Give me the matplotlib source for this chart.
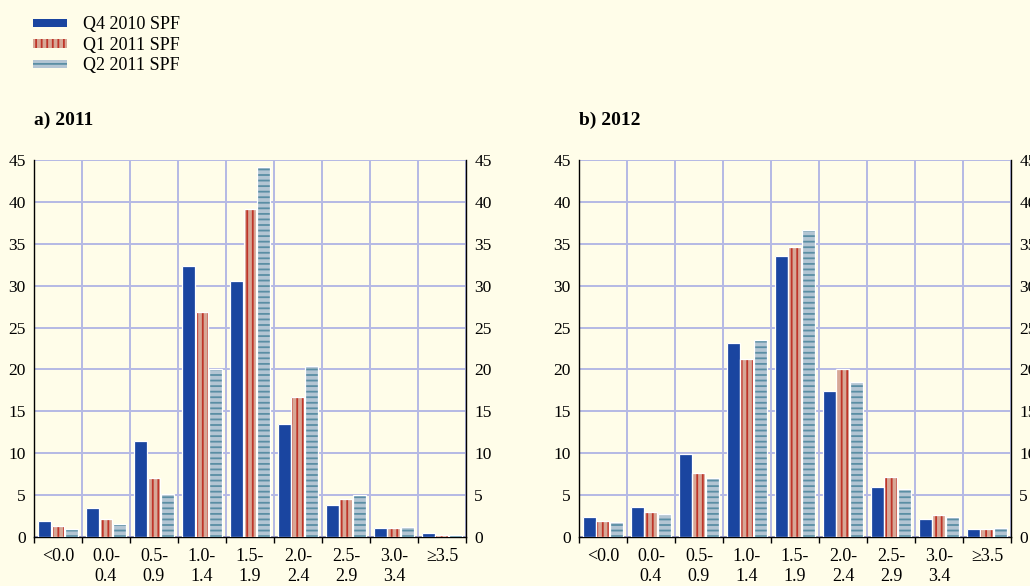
import matplotlib
matplotlib.use("Agg")
import matplotlib.pyplot as plt
import numpy as np
from matplotlib.patches import Patch

# bins of expected inflation (percent)
bins = ['<0.0', '0.0-\n0.4', '0.5-\n0.9', '1.0-\n1.4', '1.5-\n1.9',
        '2.0-\n2.4', '2.5-\n2.9', '3.0-\n3.4', '≥3.5']
series_names = ['Q4 2010 SPF', 'Q1 2011 SPF', 'Q2 2011 SPF']

# a) 2011
q4_2010_a = [1.9, 3.5, 11.5, 32.4, 30.6, 13.5, 3.8, 1.1, 0.45]
q1_2011_a = [1.3, 2.2, 7.1, 26.9, 39.2, 16.7, 4.5, 1.05, 0.25]
q2_2011_a = [0.9, 1.5, 5.1, 20.1, 44.2, 20.4, 5.0, 1.2, 0.2]

# b) 2012
q4_2010_b = [2.4, 3.6, 9.9, 23.1, 33.6, 17.4, 6.0, 2.2, 0.95]
q1_2011_b = [1.9, 3.0, 7.7, 21.3, 34.6, 20.0, 7.2, 2.6, 0.9]
q2_2011_b = [1.8, 2.8, 7.1, 23.5, 36.6, 18.5, 5.7, 2.4, 1.05]

BG = '#fffde9'
GRID = '#b4b9e4'
styles = [
    dict(color='#1a45a0', hatch=None, hatchcol='#1a45a0'),
    dict(color='#d7a796', hatch='|||', hatchcol='#bf3428'),
    dict(color='#b3c5d3', hatch='---', hatchcol='#5a8ea4'),
]

plt.rcParams['font.family'] = ['Liberation Serif', 'DejaVu Serif']
plt.rcParams['hatch.linewidth'] = 1.3

fig = plt.figure(figsize=(10.3, 5.86), dpi=100, facecolor=BG)


def draw_panel(ax, data, title):
    ax.set_facecolor(BG)
    x = np.arange(len(bins))
    w = 0.27
    offs = [-0.285, 0.0, 0.285]
    for vals, st, off in zip(data, styles, offs):
        ax.bar(x + off, vals, w, color=st['color'], hatch=st['hatch'],
               edgecolor=st['hatchcol'], linewidth=0, zorder=3)
        ax.bar(x + off, vals, w, fill=False, edgecolor='white',
               linewidth=0.9, zorder=4)

    ax.set_xlim(-0.5, len(bins) - 0.5)
    ax.set_ylim(0, 45)
    ax.set_yticks(range(0, 46, 5))
    ax.set_xticks(np.arange(len(bins) + 1) - 0.5)
    ax.set_xticklabels([])
    ax.set_xticks(x, minor=True)
    ax.set_xticklabels(bins, minor=True, fontsize=13, va='top',
                       linespacing=1.2)
    ax.tick_params(axis='x', which='major', direction='out', length=4,
                   width=1, color='black')
    ax.tick_params(axis='x', which='minor', length=0, pad=8)
    ax.tick_params(axis='y', length=0, labelsize=12.5, pad=6,
                   labelleft=True, labelright=True)
    ax.grid(True, which='major', color=GRID, linewidth=1.4, zorder=0)
    ax.spines['top'].set_visible(False)
    for s in ['left', 'right', 'bottom']:
        ax.spines[s].set_color('black')
        ax.spines[s].set_linewidth(1.0)
    ax.text(0.0, 1.105, title, transform=ax.transAxes, fontsize=14,
            fontweight='bold', ha='left', va='center')


ax1 = fig.add_axes([0.033, 0.0836, 0.4194, 0.6433])
ax2 = fig.add_axes([0.5621, 0.0836, 0.4194, 0.6433])
draw_panel(ax1, [q4_2010_a, q1_2011_a, q2_2011_a], 'a) 2011')
draw_panel(ax2, [q4_2010_b, q1_2011_b, q2_2011_b], 'b) 2012')

handles = [Patch(facecolor=st['color'], hatch=st['hatch'],
                 edgecolor=st['hatchcol'], linewidth=0) for st in styles]
fig.legend(handles, series_names, loc='upper left',
           bbox_to_anchor=(0.016, 1.0), frameon=False, fontsize=13,
           handlelength=1.9, handleheight=0.35, handletextpad=0.9,
           labelspacing=0.2)

fig.savefig('out.png', dpi=100, facecolor=BG)
